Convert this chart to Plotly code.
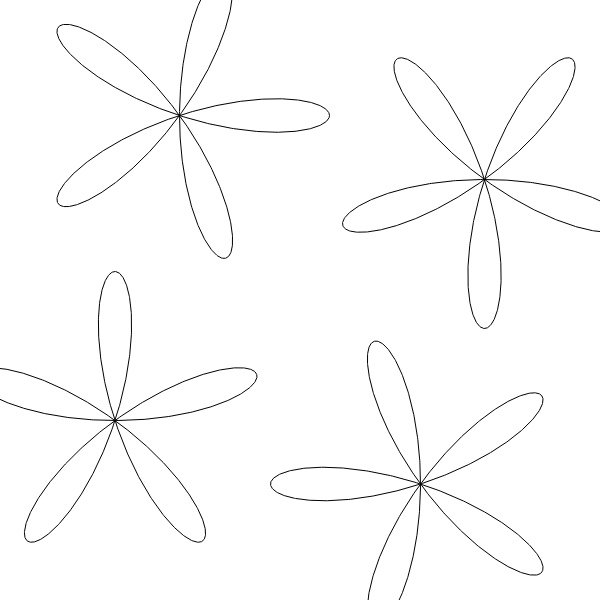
import numpy as np
import plotly.graph_objects as go

# flowers (rose curves r = L*cos(k*t)), positions in page pixels
flower_cx = [179.5, 484.5, 115.0, 420.5]
flower_cy = [115.5, 179.5, 420.5, 484.0]
flower_rot_deg = [0, 54, 18, 36]        # angle of one petal tip, counter-clockwise
petal_len = [150, 149, 149, 150]
petal_count = [5, 5, 5, 5]

fig = go.Figure()

t = np.linspace(0, np.pi, 1201)
for cx, cy, rot, L, k in zip(flower_cx, flower_cy, flower_rot_deg, petal_len, petal_count):
    r = L * np.cos(k * t)
    a = t + np.radians(rot)
    x = cx + r * np.cos(a)
    y = cy - r * np.sin(a)
    fig.add_trace(go.Scatter(
        x=x, y=y, mode="lines",
        line=dict(color="black", width=1),
        hoverinfo="skip", showlegend=False
    ))

fig.update_layout(
    width=600, height=600,
    margin=dict(l=0, r=0, t=0, b=0),
    paper_bgcolor="white", plot_bgcolor="white",
)
fig.update_xaxes(range=[0, 600], visible=False)
fig.update_yaxes(range=[600, 0], visible=False)

# drop the default 8px body margin so the plot fills the window
fig.write_html(
    "out.html",
    config={"displayModeBar": False},
    post_script="document.body.style.margin='0';",
)
